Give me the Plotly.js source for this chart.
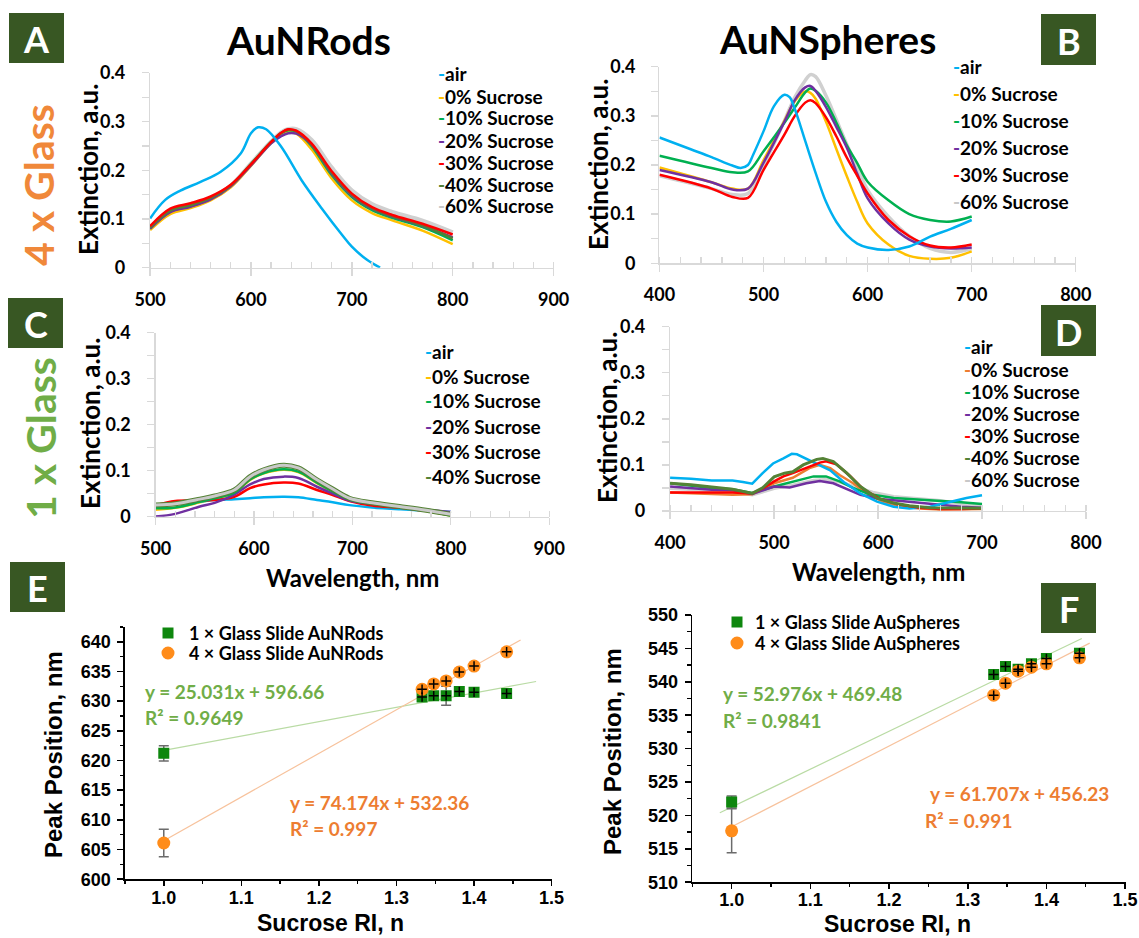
<!DOCTYPE html>
<html>
<head>
<meta charset="utf-8">
<script src="https://cdn.plot.ly/plotly-3.0.1.min.js"></script>
<style>html,body{margin:0;padding:0;background:#fff;}#chart{width:1139px;height:938px;}</style>
</head>
<body>
<div id="chart"></div>
<script>
// ---------- Panel A: AuNRods, 4 x glass ----------
const wlA = [500,520,540,560,580,600,620,630,637,645,660,680,700,720,740,770,800];
const wlA_air = [500,515,530,550,570,590,600,607,615,630,650,670,690,700,715,728];
const A_air = [0.101,0.139,0.158,0.176,0.197,0.235,0.276,0.288,0.284,0.248,0.180,0.122,0.068,0.043,0.016,0.0];
const A_s0  = [0.077,0.110,0.122,0.138,0.165,0.209,0.256,0.273,0.279,0.275,0.243,0.183,0.138,0.112,0.097,0.076,0.048];
const A_s10 = [0.080,0.115,0.126,0.141,0.168,0.212,0.258,0.276,0.282,0.279,0.250,0.190,0.145,0.118,0.102,0.083,0.056];
const A_s20 = [0.080,0.114,0.125,0.140,0.167,0.210,0.255,0.270,0.276,0.275,0.252,0.193,0.148,0.121,0.105,0.086,0.062];
const A_s30 = [0.085,0.121,0.132,0.146,0.170,0.212,0.258,0.277,0.284,0.281,0.255,0.198,0.152,0.124,0.108,0.090,0.068];
const A_s40 = [0.082,0.117,0.128,0.143,0.169,0.213,0.258,0.277,0.283,0.280,0.253,0.195,0.150,0.122,0.106,0.087,0.060];
const A_s60 = [0.083,0.115,0.127,0.142,0.168,0.213,0.258,0.277,0.284,0.284,0.262,0.205,0.158,0.130,0.114,0.096,0.072];
const legendA = ['air','0% Sucrose','10% Sucrose','20% Sucrose','30% Sucrose','40% Sucrose','60% Sucrose'];

// ---------- Panel B: AuNSpheres, 4 x glass ----------
const wlB = [400,450,470,485,500,520,530,540,545,550,560,570,580,590,600,620,640,660,680,700];
const wlB_air = [400,430,450,470,478,485,490,500,510,520,525,530,540,550,560,570,580,590,600,620,640,660,680,700];
const B_air = [0.256,0.232,0.216,0.199,0.194,0.200,0.221,0.269,0.320,0.343,0.338,0.314,0.249,0.184,0.125,0.084,0.057,0.040,0.032,0.027,0.034,0.054,0.070,0.088];
const B_s0  = [0.195,0.165,0.152,0.152,0.210,0.290,0.330,0.350,0.347,0.335,0.288,0.232,0.177,0.125,0.081,0.038,0.015,0.009,0.011,0.024];
const B_s10 = [0.219,0.194,0.185,0.187,0.228,0.286,0.317,0.348,0.356,0.351,0.327,0.286,0.240,0.204,0.166,0.128,0.100,0.088,0.085,0.095];
const B_s20 = [0.190,0.165,0.150,0.152,0.205,0.288,0.332,0.358,0.361,0.351,0.318,0.277,0.235,0.182,0.132,0.081,0.048,0.034,0.030,0.032];
const B_s30 = [0.180,0.152,0.135,0.133,0.190,0.262,0.300,0.327,0.332,0.326,0.297,0.258,0.215,0.178,0.142,0.088,0.055,0.036,0.032,0.038];
const B_s60 = [0.178,0.152,0.140,0.142,0.200,0.290,0.338,0.372,0.384,0.380,0.341,0.292,0.242,0.195,0.149,0.095,0.055,0.030,0.022,0.030];
const legendB = ['air','0% Sucrose','10% Sucrose','20% Sucrose','30% Sucrose','60% Sucrose'];

// ---------- Panel C: AuNRods, 1 x glass ----------
const wlC = [500,520,545,560,580,596,610,630,645,664,680,697,720,748,775,800];
const C_air = [0.025,0.028,0.033,0.036,0.038,0.040,0.042,0.043,0.042,0.036,0.031,0.025,0.020,0.016,0.013,0.010];
const C_s0  = [0.015,0.019,0.031,0.039,0.051,0.080,0.094,0.102,0.097,0.073,0.054,0.036,0.028,0.020,0.012,0.002];
const C_s10 = [0.018,0.020,0.032,0.040,0.052,0.081,0.095,0.103,0.098,0.074,0.055,0.037,0.029,0.021,0.013,0.002];
const C_s20 = [0.000,0.006,0.022,0.030,0.048,0.070,0.082,0.087,0.084,0.065,0.050,0.035,0.028,0.021,0.015,0.010];
const C_s30 = [0.025,0.034,0.035,0.036,0.043,0.062,0.070,0.074,0.072,0.058,0.047,0.034,0.024,0.019,0.013,0.008];
const C_s40 = [0.025,0.028,0.038,0.045,0.058,0.087,0.102,0.112,0.106,0.080,0.060,0.040,0.030,0.022,0.014,0.005];
const legendC = ['air','0% Sucrose','10% Sucrose','20% Sucrose','30% Sucrose','40% Sucrose'];

// ---------- Panel D: AuNSpheres, 1 x glass ----------
const wlD_air = [400,420,440,460,470,479,489,499,509,517,522,531,544,554,567,583,599,615,630,650,670,685,700];
const D_air = [0.072,0.070,0.066,0.066,0.063,0.059,0.082,0.103,0.114,0.124,0.123,0.113,0.100,0.088,0.063,0.038,0.020,0.009,0.005,0.009,0.020,0.028,0.034];
const wlD_s0 = [400,420,440,460,479,490,500,518,534,544,554,563,576,589,605,620,640,660,680,700];
const D_s0 = [0.040,0.038,0.036,0.035,0.036,0.048,0.060,0.072,0.093,0.100,0.093,0.078,0.060,0.038,0.020,0.011,0.005,0.003,0.003,0.004];
const wlD_s10 = [400,420,440,460,479,500,518,538,550,563,576,592,615,640,660,680,700];
const D_s10 = [0.060,0.055,0.050,0.047,0.039,0.053,0.064,0.075,0.075,0.064,0.050,0.036,0.028,0.025,0.023,0.019,0.015];
const wlD_s20 = [400,420,440,460,479,500,515,531,544,557,570,583,602,620,650,680,700];
const D_s20 = [0.053,0.050,0.046,0.045,0.037,0.053,0.051,0.060,0.065,0.060,0.047,0.035,0.026,0.022,0.016,0.009,0.007];
const wlD_s30 = [400,420,440,460,479,490,500,509,518,531,544,550,560,573,586,602,618,640,660,680,700];
const D_s30 = [0.040,0.040,0.040,0.040,0.038,0.050,0.064,0.075,0.082,0.093,0.105,0.108,0.101,0.076,0.047,0.026,0.015,0.007,0.004,0.004,0.005];
const wlD_s40 = [400,420,440,460,479,489,500,510,518,528,541,547,557,570,583,599,615,630,650,675,700];
const D_s40 = [0.060,0.057,0.052,0.047,0.038,0.050,0.074,0.082,0.085,0.100,0.112,0.114,0.107,0.082,0.053,0.028,0.017,0.011,0.007,0.006,0.006];
const wlD_s60 = [400,420,440,460,479,500,518,538,552,565,580,595,615,640,660,680,700];
const D_s60 = [0.049,0.047,0.045,0.042,0.035,0.049,0.056,0.066,0.068,0.062,0.050,0.040,0.031,0.027,0.022,0.015,0.012];
const legendD = ['air','0% Sucrose','10% Sucrose','20% Sucrose','30% Sucrose','40% Sucrose','60% Sucrose'];

// ---------- Panel E: AuNRods peak position ----------
const riE = [1.0,1.333,1.348,1.364,1.381,1.400,1.442];
const E_peak1 = [621.2,630.7,630.9,630.9,631.6,631.5,631.3];
const E_peak4 = [606.1,632.0,632.9,633.4,634.9,635.9,638.3];
const E_err1 = [1.3,0,0,1.6,0,0,0];
const E_err4 = [2.3,0,0,0,0,0,0];
const E_fit1x = [1.0,1.48], E_fit1y = [621.7,633.3];
const E_fit4x = [1.0,1.46], E_fit4y = [606.5,640.3];
const legendE = ['1 × Glass Slide AuNRods','4 × Glass Slide AuNRods'];
const eqE = ['y = 25.031x + 596.66','R² = 0.9649','y = 74.174x + 532.36','R² = 0.997'];

// ---------- Panel F: AuNSpheres peak position ----------
const riF = [1.0,1.333,1.348,1.364,1.381,1.400,1.442];
const F_peak1 = [522.0,541.1,542.3,541.9,542.7,543.5,544.3];
const F_peak4 = [517.7,538.0,539.8,541.6,542.2,542.7,543.6];
const F_err1 = [0.9,0,0,0,0,0,0];
const F_err4 = [3.3,0,0,0,0,0,0];
const F_fit1x = [0.985,1.445], F_fit1y = [520.4,546.5];
const F_fit4x = [1.0,1.455], F_fit4y = [518.3,545.8];
const legendF = ['1 × Glass Slide AuSpheres','4 × Glass Slide AuSpheres'];
const eqF = ['y = 52.976x + 469.48','R² = 0.9841','y = 61.707x + 456.23','R² = 0.991'];

// ---------- styling ----------
const W = 1139, H = 938;
const X = p => p / W, Y = p => 1 - p / H;
const C_AIR='#00b0f0', C0='#ffc000', C10='#00b050', C20='#7030a0', C30='#ff0000', C40='#548235', C60='#d0d0d0', C0D='#ed7d31';
const GREEN_TXT='#70ad47', ORANGE_TXT='#ed7d31';
const SQ='#0e870e', CI='#ff8c1a';
const LATO='Lato, "Open Sans", sans-serif', ARIAL='"Liberation Sans", Arial, sans-serif';

function line(x, y, color, w, xa, ya, shape) {
  return {x, y, type:'scatter', mode:'lines', xaxis:xa, yaxis:ya, hoverinfo:'skip',
    line:{color, width:w, shape: shape || 'spline', smoothing:1}};
}
const traces = [];
// A
traces.push(line(wlA, A_s60, C60, 4.5, 'x', 'y'));
traces.push(line(wlA, A_s0, C0, 2.5, 'x', 'y'));
traces.push(line(wlA, A_s10, C10, 2.5, 'x', 'y'));
traces.push(line(wlA, A_s20, C20, 2.5, 'x', 'y'));
traces.push(line(wlA, A_s40, C40, 2.5, 'x', 'y'));
traces.push(line(wlA, A_s30, C30, 2.5, 'x', 'y'));
traces.push(line(wlA_air, A_air, C_AIR, 2.5, 'x', 'y'));
// B
traces.push(line(wlB, B_s60, C60, 3.5, 'x2', 'y2'));
traces.push(line(wlB, B_s0, C0, 2.5, 'x2', 'y2'));
traces.push(line(wlB, B_s10, C10, 2.5, 'x2', 'y2'));
traces.push(line(wlB, B_s20, C20, 2.5, 'x2', 'y2'));
traces.push(line(wlB, B_s30, C30, 2.5, 'x2', 'y2'));
traces.push(line(wlB_air, B_air, C_AIR, 2.5, 'x2', 'y2'));
// C
traces.push(line(wlC, C_s0, C0, 2.5, 'x3', 'y3'));
traces.push(line(wlC, C_air, C_AIR, 2.5, 'x3', 'y3'));
traces.push(line(wlC, C_s30, C30, 2.5, 'x3', 'y3'));
traces.push(line(wlC, C_s20, C20, 2.5, 'x3', 'y3'));
traces.push(line(wlC, C_s10, C10, 2.5, 'x3', 'y3'));
traces.push(line(wlC, C_s40, C40, 5, 'x3', 'y3'));
traces.push(line(wlC, C_s40, '#c9c9c9', 3, 'x3', 'y3'));
// D
traces.push(line(wlD_s60, D_s60, C60, 3.5, 'x4', 'y4', 'linear'));
traces.push(line(wlD_s0, D_s0, C0D, 2.5, 'x4', 'y4', 'linear'));
traces.push(line(wlD_s10, D_s10, C10, 2.5, 'x4', 'y4', 'linear'));
traces.push(line(wlD_s20, D_s20, C20, 2.5, 'x4', 'y4', 'linear'));
traces.push(line(wlD_air, D_air, C_AIR, 2.5, 'x4', 'y4', 'linear'));
traces.push(line(wlD_s30, D_s30, C30, 2.5, 'x4', 'y4', 'linear'));
traces.push(line(wlD_s40, D_s40, C40, 3, 'x4', 'y4', 'linear'));

// E, F scatter panels
function peakPanel(ri, p1, p4, e1, e4, f1x, f1y, f4x, f4y, crossY, xa, ya) {
  traces.push({x:f1x, y:f1y, type:'scatter', mode:'lines', xaxis:xa, yaxis:ya, hoverinfo:'skip', line:{color:'#b9dba4', width:1.2}});
  traces.push({x:f4x, y:f4y, type:'scatter', mode:'lines', xaxis:xa, yaxis:ya, hoverinfo:'skip', line:{color:'#f7c29c', width:1.2}});
  [[p1,e1],[p4,e4]].forEach(([p,e]) => {
    const idx = e.map((v,i)=>v>0?i:-1).filter(i=>i>=0);
    traces.push({x:idx.map(i=>ri[i]), y:idx.map(i=>p[i]), type:'scatter', mode:'markers', xaxis:xa, yaxis:ya, hoverinfo:'skip',
      marker:{opacity:0, size:2}, error_y:{type:'data', array:idx.map(i=>e[i]), color:'#6b6b6b', thickness:1.5, width:5}});
  });
  traces.push({x:ri, y:p1, type:'scatter', mode:'markers', xaxis:xa, yaxis:ya, hoverinfo:'skip', marker:{symbol:'square', size:11, color:SQ}});
  traces.push({x:ri, y:p4, type:'scatter', mode:'markers', xaxis:xa, yaxis:ya, hoverinfo:'skip', marker:{symbol:'circle', size:13, color:CI}});
  [p1,p4].forEach(p => {
    traces.push({x:ri.slice(1), y:p.slice(1), type:'scatter', mode:'markers', xaxis:xa, yaxis:ya, hoverinfo:'skip',
      marker:{opacity:0, size:2},
      error_x:{type:'constant', value:0.0062, color:'#000', thickness:1.5, width:0},
      error_y:{type:'constant', value:crossY, color:'#000', thickness:1.5, width:0}});
  });
}
peakPanel(riE, E_peak1, E_peak4, E_err1, E_err4, E_fit1x, E_fit1y, E_fit4x, E_fit4y, 0.8, 'x5', 'y5');
peakPanel(riF, F_peak1, F_peak4, F_err1, F_err4, F_fit1x, F_fit1y, F_fit4x, F_fit4y, 0.72, 'x6', 'y6');

// axes
const specFont = {family:LATO, size:18, color:'#000', weight:700};
function xSpec(x0, x1, rng, anchor) {
  return {domain:[X(x0), X(x1)], range:rng, anchor, showline:true, linecolor:'#d9d9d9', linewidth:1.3,
    ticks:'outside', ticklen:7, tickcolor:'#d9d9d9', tickwidth:1.3, dtick:100, tick0:0, showgrid:false, zeroline:false,
    tickfont:specFont, ticklabelstandoff:8, fixedrange:true,
    minor:{dtick:20, ticks:'inside', ticklen:6, tickcolor:'#d9d9d9', tickwidth:1.3, showgrid:false}};
}
function ySpec(y0, y1, anchor, standoff) {
  return {domain:[Y(y1), Y(y0)], range:[-0.0002, 0.4002], anchor, showline:true, linecolor:'#d9d9d9', linewidth:1.3,
    ticks:'outside', ticklen:7, tickcolor:'#d9d9d9', tickwidth:1.3, dtick:0.1, tick0:0, showgrid:false, zeroline:false,
    tickfont:specFont, ticklabelstandoff:standoff, fixedrange:true,
    minor:{dtick:0.05, ticks:'outside', ticklen:7, tickcolor:'#d9d9d9', tickwidth:1.3, showgrid:false}};
}
const pkFont = {family:ARIAL, size:18, color:'#000', weight:700};
function xPk(x0, x1, anchor, standoff) {
  return {domain:[X(x0), X(x1)], range:[0.95, 1.5005], anchor, showline:true, linecolor:'#000', linewidth:1.6,
    ticks:'outside', ticklen:5, tickwidth:1.6, tickcolor:'#000', dtick:0.1, tick0:0, tickformat:'.1f',
    showgrid:false, zeroline:false, tickfont:pkFont, ticklabelstandoff:standoff, fixedrange:true,
    minor:{dtick:0.05, ticks:'outside', ticklen:3.5, tickwidth:1.4, tickcolor:'#000', showgrid:false}};
}
function yPk(y0, y1, rng, anchor) {
  return {domain:[Y(y1), Y(y0)], range:rng, anchor, showline:true, linecolor:'#000', linewidth:1.6,
    ticks:'outside', ticklen:6, tickwidth:1.6, tickcolor:'#000', dtick:5, tick0:0,
    showgrid:false, zeroline:false, tickfont:pkFont, ticklabelstandoff:3, fixedrange:true,
    minor:{dtick:2.5, ticks:'outside', ticklen:3.5, tickwidth:1.4, tickcolor:'#000', showgrid:false}};
}

const annotations = [];
const shapes = [];
function txt(x, y, text, size, color, family, opts) {
  annotations.push(Object.assign({x:X(x), y:Y(y), xref:'paper', yref:'paper', showarrow:false, text,
    xanchor:'center', yanchor:'middle', font:{family:family||LATO, size, color:color||'#000', weight:700}}, opts||{}));
}
// titles
txt(308, 40, 'AuNRods', 39);
txt(827, 39, 'AuNSpheres', 39);
// panel letter boxes
[['A',9,13,64,63],['B',1041,14,1096,65],['C',8,298,63,348],['D',1041,305,1096,356],['E',10,562,65,612],['F',1041,583,1096,633]]
.forEach(([L,x0,y0,x1,y1]) => {
  shapes.push({type:'rect', xref:'paper', yref:'paper', x0:X(x0), x1:X(x1), y0:Y(y1), y1:Y(y0), fillcolor:'#385723', line:{width:0}, layer:'above'});
  txt((x0+x1)/2, (y0+y1)/2 + 1, L, 36, '#ffffff');
});
// side labels
txt(38, 185, '4 x Glass', 41, '#f0883a', LATO, {textangle:-90});
txt(40, 438, '1 x Glass', 41, '#70ad47', LATO, {textangle:-90});
// axis titles
txt(88, 170, 'Extinction, a.u.', 26, '#000', LATO, {textangle:-90});
txt(598, 165, 'Extinction, a.u.', 26, '#000', LATO, {textangle:-90});
txt(90, 424, 'Extinction, a.u.', 26, '#000', LATO, {textangle:-90});
txt(607, 418, 'Extinction, a.u.', 26, '#000', LATO, {textangle:-90});
txt(352, 577, 'Wavelength, nm', 24);
txt(878, 571, 'Wavelength, nm', 24);
txt(53, 754, 'Peak Position, nm', 24, '#000', ARIAL, {textangle:-90});
txt(612, 752, 'Peak Position, nm', 24, '#000', ARIAL, {textangle:-90});
txt(330, 923, 'Sucrose RI, n', 23, '#000', ARIAL);
txt(897, 924, 'Sucrose RI, n', 23, '#000', ARIAL);
// spectral legends
function specLegend(labels, colors, x, ys) {
  labels.forEach((lab, i) => txt(x, ys[i], `<span style="color:${colors[i]}">-</span>${lab}`, 19, '#000', LATO, {xanchor:'left'}));
}
specLegend(legendA, [C_AIR,C0,C10,C20,C30,C40,'#c8c8c8'], 436, [74,96,118,140,162,184,206]);
specLegend(legendB, [C_AIR,C0,C10,C20,C30,'#c8c8c8'], 951, [67,93,120,147,174,201]);
specLegend(legendC, [C_AIR,C0,C10,C20,C30,C40], 423, [351,376,401,426,451,476]);
specLegend(legendD, [C_AIR,C0D,C10,C20,C30,C40,'#c8c8c8'], 962, [347,369,391,413,435,457,479]);
// peak legends
function pkLegend(labels, mx, ys, tx) {
  shapes.push({type:'rect', xref:'paper', yref:'paper', x0:X(mx-5.5), x1:X(mx+5.5), y0:Y(ys[0]+5.5), y1:Y(ys[0]-5.5), fillcolor:SQ, line:{width:0}});
  shapes.push({type:'circle', xref:'paper', yref:'paper', x0:X(mx-6.5), x1:X(mx+6.5), y0:Y(ys[1]+6.5), y1:Y(ys[1]-6.5), fillcolor:CI, line:{width:0}});
  labels.forEach((lab, i) => txt(tx, ys[i], lab, 18, '#000', LATO, {xanchor:'left'}));
}
pkLegend(legendE, 168, [633, 653], 187);
pkLegend(legendF, 737, [622, 643], 753);
// equations
txt(143, 691, eqE[0], 19, GREEN_TXT, LATO, {xanchor:'left'});
txt(143, 717, eqE[1], 19, GREEN_TXT, LATO, {xanchor:'left'});
txt(288, 802, eqE[2], 19, ORANGE_TXT, LATO, {xanchor:'left'});
txt(288, 828, eqE[3], 19, ORANGE_TXT, LATO, {xanchor:'left'});
txt(721, 693, eqF[0], 19, GREEN_TXT, LATO, {xanchor:'left'});
txt(721, 720, eqF[1], 19, GREEN_TXT, LATO, {xanchor:'left'});
txt(928, 793, eqF[2], 19, ORANGE_TXT, LATO, {xanchor:'left'});
txt(923, 820, eqF[3], 19, ORANGE_TXT, LATO, {xanchor:'left'});

const layout = {
  width:W, height:H, margin:{l:0, r:0, t:0, b:0}, paper_bgcolor:'#fff', plot_bgcolor:'rgba(0,0,0,0)',
  showlegend:false, font:{family:LATO},
  xaxis: xSpec(150.0, 553.7, [499.9, 900.1], 'y'),   yaxis: ySpec(72.7, 267.7, 'x', 13),
  xaxis2: xSpec(659.4, 1075.9, [399.9, 800.1], 'y2'), yaxis2: ySpec(66.7, 263.3, 'x2', 12),
  xaxis3: xSpec(155.5, 549.3, [499.9, 900.1], 'y3'), yaxis3: ySpec(332.7, 516.7, 'x3', 13),
  xaxis4: xSpec(670.0, 1086.1, [399.9, 800.1], 'y4'), yaxis4: ySpec(326.7, 511.0, 'x4', 13),
  xaxis5: xPk(125.0, 552.0, 'y5', -4), yaxis5: yPk(626.9, 879.3, [599.99, 642.5], 'x5'),
  xaxis6: xPk(692.3, 1125.5, 'y6', -5), yaxis6: yPk(615.0, 882.3, [509.99, 550.01], 'x6'),
  annotations, shapes
};
Plotly.newPlot('chart', traces, layout, {staticPlot:true, displayModeBar:false});
</script>
</body>
</html>
